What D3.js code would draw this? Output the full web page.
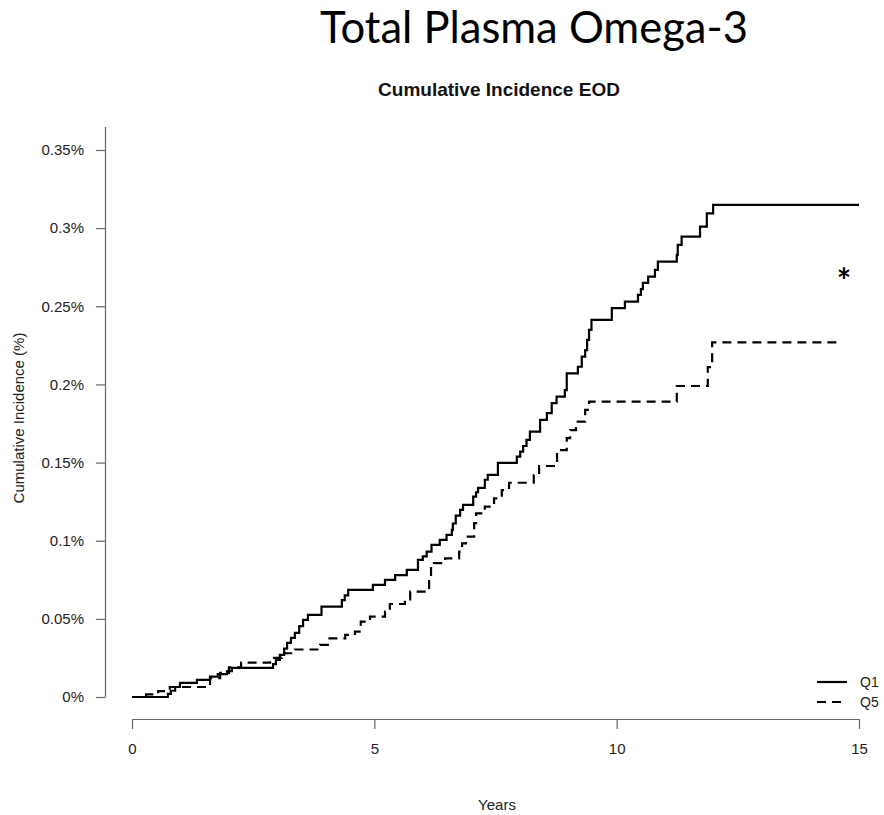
<!DOCTYPE html>
<html>
<head>
<meta charset="utf-8">
<script src="https://cdn.jsdelivr.net/npm/d3@7"></script>
<style>
  html, body { margin: 0; padding: 0; background: #fff; }
  svg { display: block; }
</style>
</head>
<body>
<svg id="chart" width="884" height="815"></svg>
<script>
// Cumulative incidence of EOD by total plasma omega-3 quintile (Q1 vs Q5)
const q1Years = [0, 0.74, 0.80, 0.89, 0.99, 1.34, 1.61, 1.77, 1.96, 2.06, 2.91, 2.97, 3.05, 3.14, 3.20, 3.28,
  3.36, 3.45, 3.53, 3.63, 3.91, 4.33, 4.39, 4.46, 4.97, 5.22, 5.43, 5.67, 5.90, 6.00, 6.08, 6.18, 6.35,
  6.49, 6.60, 6.62, 6.68, 6.77, 6.83, 7.04, 7.10, 7.14, 7.28, 7.34, 7.55, 7.94, 8.01, 8.07, 8.14, 8.21,
  8.42, 8.56, 8.66, 8.76, 8.93, 8.97, 9.20, 9.28, 9.35, 9.39, 9.43, 9.48, 9.90, 10.17, 10.44, 10.50,
  10.54, 10.65, 10.79, 10.85, 11.24, 11.26, 11.34, 11.72, 11.86, 11.99, 15.0];
const q1Incidence = [0, 0.002, 0.004, 0.0064, 0.009, 0.011, 0.013, 0.0147, 0.0166, 0.0186, 0.021, 0.0237,
  0.027, 0.031, 0.0346, 0.0378, 0.041, 0.0454, 0.0493, 0.0525, 0.0578, 0.062, 0.065, 0.0685, 0.0717,
  0.0749, 0.078, 0.0813, 0.0877, 0.090, 0.093, 0.0973, 0.1005, 0.1037, 0.1069, 0.111, 0.116, 0.1197,
  0.1229, 0.1282, 0.131, 0.1338, 0.139, 0.1421, 0.1498, 0.1538, 0.157, 0.1606, 0.1645, 0.1698, 0.1773,
  0.1817, 0.1881, 0.1922, 0.1964, 0.2071, 0.2113, 0.2178, 0.222, 0.2285, 0.2349, 0.2413, 0.2488, 0.253,
  0.2573, 0.261, 0.265, 0.269, 0.2733, 0.2786, 0.2829, 0.2893, 0.2946, 0.301, 0.3095, 0.3149, 0.3149];

const q5Years = [0, 0.29, 0.54, 0.78, 1.61, 1.82, 2.00, 2.25, 2.85, 3.09, 3.36, 3.88, 4.04, 4.40, 4.60,
  4.72, 4.91, 5.22, 5.32, 5.63, 5.74, 6.13, 6.17, 6.23, 6.46, 6.75, 6.81, 6.89, 7.06, 7.10, 7.28, 7.47,
  7.63, 7.78, 8.29, 8.40, 8.77, 8.97, 9.04, 9.16, 9.35, 9.43, 11.24, 11.88, 11.97, 14.6];
const q5Incidence = [0, 0.0017, 0.0038, 0.0064, 0.012, 0.0154, 0.019, 0.022, 0.025, 0.028, 0.0304, 0.0333,
  0.0375, 0.0397, 0.0418, 0.0482, 0.0514, 0.0546, 0.0595, 0.0625, 0.0674, 0.0749, 0.0834, 0.0856,
  0.0887, 0.093, 0.0983, 0.1026, 0.1113, 0.1175, 0.1218, 0.1271, 0.1324, 0.1371, 0.142, 0.1478, 0.158,
  0.1657, 0.1708, 0.1762, 0.1837, 0.189, 0.199, 0.2111, 0.2269, 0.2269];

const xTicks = [0, 5, 10, 15];
const yTicks = [0, 0.05, 0.1, 0.15, 0.2, 0.25, 0.3, 0.35];
const yTickLabels = ["0%", "0.05%", "0.1%", "0.15%", "0.2%", "0.25%", "0.3%", "0.35%"];
const groups = ["Q1", "Q5"];

const svg = d3.select("#chart");
const sans = "'Liberation Sans', Arial, Helvetica, sans-serif";

const x = d3.scaleLinear().domain([0, 15]).range([132, 859]);
const y = d3.scaleLinear().domain([0, 0.35]).range([697, 150]);
const yTop = 0.365;

// Headline
const title = svg.append("text")
  .attr("x", 534).attr("y", 43)
  .attr("text-anchor", "middle")
  .attr("font-family", "Lato, 'Open Sans', sans-serif")
  .attr("font-size", 40)
  .attr("fill", "#000")
  .text("Total Plasma Omega-3");
const tw = title.node().getComputedTextLength();
title.attr("font-size", 40 * 428 / tw);

svg.append("text")
  .attr("x", 499).attr("y", 96)
  .attr("text-anchor", "middle")
  .attr("font-family", sans)
  .attr("font-weight", "bold")
  .attr("font-size", 19)
  .attr("fill", "#111")
  .text("Cumulative Incidence EOD");

// X axis
const xAxis = svg.append("g")
  .attr("transform", "translate(0,719)")
  .call(d3.axisBottom(x).tickValues(xTicks).tickFormat(d3.format("d")).tickSize(10).tickSizeOuter(0).tickPadding(14));
// Y axis
const yAxis = svg.append("g")
  .attr("transform", "translate(105,0)")
  .call(d3.axisLeft(y.copy().domain([0, yTop]).range([697, y(yTop)]))
    .tickValues(yTicks).tickFormat((d, i) => yTickLabels[i]).tickSize(9).tickSizeOuter(0).tickPadding(12));

[xAxis, yAxis].forEach(g => {
  g.selectAll("path, line").attr("stroke", "#666").attr("stroke-width", 1.2);
  g.selectAll("text").attr("font-family", sans).attr("font-size", 15).attr("fill", "#222");
});

svg.append("text")
  .attr("x", 497).attr("y", 810)
  .attr("text-anchor", "middle")
  .attr("font-family", sans).attr("font-size", 15).attr("fill", "#222")
  .text("Years");

svg.append("text")
  .attr("transform", "translate(24,418) rotate(-90)")
  .attr("text-anchor", "middle")
  .attr("font-family", sans).attr("font-size", 15).attr("fill", "#222")
  .text("Cumulative Incidence (%)");

// Step curves
const step = d3.line().x(d => x(d[0])).y(d => y(d[1])).curve(d3.curveStepAfter);
const series = [
  { name: groups[0], pts: d3.zip(q1Years, q1Incidence), dash: null },
  { name: groups[1], pts: d3.zip(q5Years, q5Incidence), dash: "9,6" }
];
series.forEach(s => {
  svg.append("path")
    .attr("d", step(s.pts))
    .attr("fill", "none")
    .attr("stroke", "#000")
    .attr("stroke-width", 2.2)
    .attr("stroke-dasharray", s.dash);
});

// Significance marker
svg.append("text")
  .attr("x", 844).attr("y", 293)
  .attr("text-anchor", "middle")
  .attr("font-family", "Lato, sans-serif")
  .attr("font-weight", "bold")
  .attr("font-size", 34)
  .attr("fill", "#000")
  .text("*");

// Legend
const legend = svg.append("g");
series.forEach((s, i) => {
  const ly = 682 + i * 20;
  legend.append("line")
    .attr("x1", 817).attr("x2", 847).attr("y1", ly).attr("y2", ly)
    .attr("stroke", "#000").attr("stroke-width", 2.2)
    .attr("stroke-dasharray", s.dash);
  legend.append("text")
    .attr("x", 860).attr("y", ly + 5)
    .attr("font-family", sans).attr("font-size", 14).attr("fill", "#222")
    .text(s.name);
});
</script>
</body>
</html>
